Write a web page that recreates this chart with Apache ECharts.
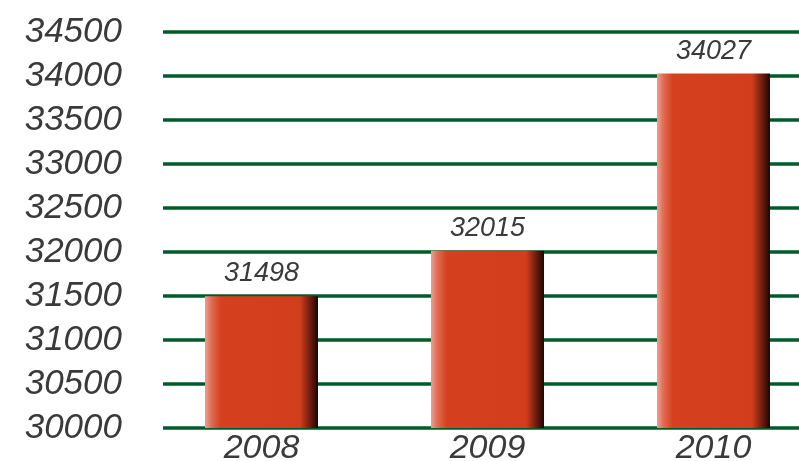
<!DOCTYPE html>
<html>
<head>
<meta charset="utf-8">
<script src="https://cdn.jsdelivr.net/npm/echarts@6/dist/echarts.min.js"></script>
<style>
  html, body { margin: 0; padding: 0; background: #fff; }
  #chart { width: 799px; height: 461px; }
</style>
</head>
<body>
<div id="chart"></div>
<script>
// 数据
const years = ['2008', '2009', '2010']
const values = [31498, 32015, 34027]
const yMin = 30000
const yMax = 34500
const yStep = 500

const myChart = echarts.init(document.getElementById('chart'))

const barColor = new echarts.graphic.LinearGradient(0, 0, 1, 0, [
  { offset: 0, color: '#eaa092' },
  { offset: 0.06, color: '#df6a50' },
  { offset: 0.14, color: '#d5411f' },
  { offset: 0.84, color: '#d23e1c' },
  { offset: 0.92, color: '#7a2010' },
  { offset: 1, color: '#1c0603' }
])

myChart.setOption({
  animation: false,
  grid: [
    // 网格线 + y 轴
    { left: 163, right: 0, top: 32, bottom: 33, outerBoundsMode: 'none' },
    // 柱子
    { left: 148.5, width: 678, top: 32, bottom: 33, outerBoundsMode: 'none' }
  ],
  xAxis: [
    { gridIndex: 0, type: 'value', show: false },
    {
      gridIndex: 1,
      type: 'category',
      data: years,
      axisLine: { show: false },
      axisTick: { show: false },
      axisLabel: {
        margin: 4,
        fontFamily: 'Liberation Sans',
        fontStyle: 'italic',
        fontSize: 34,
        color: '#3a3a3a'
      }
    }
  ],
  yAxis: [
    {
      gridIndex: 0,
      type: 'value',
      min: yMin,
      max: yMax,
      interval: yStep,
      axisLine: { show: false },
      axisTick: { show: false },
      axisLabel: {
        margin: 41,
        formatter: v => String(v),
        fontFamily: 'Liberation Sans',
        fontStyle: 'italic',
        fontSize: 35,
        color: '#3a3a3a'
      },
      splitLine: { lineStyle: { color: '#005c2b', width: 3.5 } }
    },
    {
      gridIndex: 1,
      type: 'value',
      min: yMin,
      max: yMax,
      show: false
    }
  ],
  series: [
    {
      type: 'bar',
      xAxisIndex: 1,
      yAxisIndex: 1,
      data: values,
      barWidth: 113,
      itemStyle: { color: barColor },
      label: {
        show: true,
        position: 'top',
        distance: 9,
        fontFamily: 'Liberation Sans',
        fontStyle: 'italic',
        fontSize: 27,
        color: '#3a3a3a'
      }
    }
  ]
})
</script>
</body>
</html>
